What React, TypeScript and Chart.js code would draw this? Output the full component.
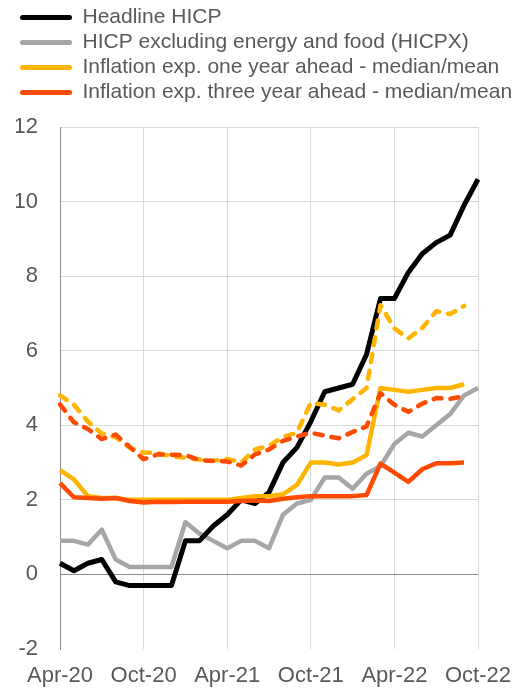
import React, { useEffect, useRef } from "react";
import { Chart, registerables } from "chart.js";

Chart.register(...registerables);

const months: string[] = [
  "Apr-20", "May-20", "Jun-20", "Jul-20", "Aug-20", "Sep-20", "Oct-20", "Nov-20", "Dec-20",
  "Jan-21", "Feb-21", "Mar-21", "Apr-21", "May-21", "Jun-21", "Jul-21", "Aug-21", "Sep-21",
  "Oct-21", "Nov-21", "Dec-21", "Jan-22", "Feb-22", "Mar-22", "Apr-22", "May-22", "Jun-22",
  "Jul-22", "Aug-22", "Sep-22", "Oct-22",
];

const headlineHICP: (number | null)[] = [
  0.3, 0.1, 0.3, 0.4, -0.2, -0.3, -0.3, -0.3, -0.3, 0.9, 0.9, 1.3, 1.6, 2.0, 1.9, 2.2,
  3.0, 3.4, 4.1, 4.9, 5.0, 5.1, 5.9, 7.4, 7.4, 8.1, 8.6, 8.9, 9.1, 9.9, 10.6,
];

const hicpx: (number | null)[] = [
  0.9, 0.9, 0.8, 1.2, 0.4, 0.2, 0.2, 0.2, 0.2, 1.4, 1.1, 0.9, 0.7, 0.9, 0.9, 0.7,
  1.6, 1.9, 2.0, 2.6, 2.6, 2.3, 2.7, 2.9, 3.5, 3.8, 3.7, 4.0, 4.3, 4.8, 5.0,
];

const oneYearMedian: (number | null)[] = [
  2.8, 2.55, 2.1, 2.05, 2.05, 2.0, 2.0, 2.0, 2.0, 2.0, 2.0, 2.0, 2.0, 2.05, 2.1, 2.1,
  2.15, 2.4, 3.0, 3.0, 2.95, 3.0, 3.2, 5.0, 4.95, 4.9, 4.95, 5.0, 5.0, 5.1, null,
];

const threeYearMedian: (number | null)[] = [
  2.45, 2.07, 2.05, 2.03, 2.05, 1.97, 1.93, 1.95, 1.94, 1.95, 1.95, 1.95, 1.95, 1.97, 1.98, 1.97,
  2.03, 2.07, 2.1, 2.1, 2.1, 2.1, 2.13, 2.97, 2.73, 2.48, 2.82, 2.98, 2.98, 3.0, null,
];

const oneYearMean: (number | null)[] = [
  4.8, 4.55, 4.1, 3.78, 3.68, 3.4, 3.27, 3.25, 3.17, 3.13, 3.08, 3.05, 3.1, 3.0, 3.35, 3.45,
  3.69, 3.8, 4.6, 4.55, 4.4, 4.7, 5.0, 7.22, 6.6, 6.33, 6.61, 7.06, 6.98, 7.2, null,
];

const threeYearMean: (number | null)[] = [
  4.56, 4.08, 3.9, 3.63, 3.75, 3.42, 3.09, 3.22, 3.21, 3.2, 3.07, 3.04, 3.03, 2.92, 3.22, 3.35,
  3.58, 3.7, 3.8, 3.72, 3.65, 3.82, 3.97, 4.86, 4.55, 4.36, 4.58, 4.73, 4.71, 4.78, null,
];

const seriesNames: string[] = [
  "Headline HICP",
  "HICP excluding energy and food (HICPX)",
  "Inflation exp. one year ahead - median/mean",
  "Inflation exp. three year ahead - median/mean",
];

const yTicks: number[] = [-2, 0, 2, 4, 6, 8, 10, 12];

const BLACK = "#000000";
const GREY = "#a6a6a6";
const YELLOW = "#ffb400";
const ORANGE = "#ff4b00";
const TEXT = "#595959";

export default function App() {
  const ref = useRef<HTMLCanvasElement | null>(null);

  useEffect(() => {
    if (!ref.current) return;
    Chart.defaults.font.family = "'Liberation Sans', Arial, sans-serif";
    Chart.defaults.color = TEXT;

    const legendSpacer = {
      id: "legendSpacer",
      beforeInit(chart: any) {
        const origFit = chart.legend.fit;
        chart.legend.fit = function () {
          origFit.bind(chart.legend)();
          this.height += 14;
        };
      },
    };

    const solid = (label: string, data: (number | null)[], color: string, width: number, order: number) => ({
      label,
      data,
      borderColor: color,
      backgroundColor: color,
      borderWidth: width,
      pointRadius: 0,
      tension: 0,
      fill: false,
      order,
      borderJoinStyle: "round" as const,
    });

    const dashed = (label: string, data: (number | null)[], color: string, order: number) => ({
      ...solid(label, data, color, 4.5, order),
      borderDash: [8, 9],
      borderCapStyle: "round" as const,
    });

    const chart = new Chart(ref.current, {
      type: "line",
      data: {
        labels: months,
        datasets: [
          solid(seriesNames[0], headlineHICP, BLACK, 5, 4),
          solid(seriesNames[1], hicpx, GREY, 4.5, 5),
          solid(seriesNames[2], oneYearMedian, YELLOW, 4.5, 3),
          solid(seriesNames[3], threeYearMedian, ORANGE, 4.5, 2),
          dashed(seriesNames[2] + " (mean)", oneYearMean, YELLOW, 1),
          dashed(seriesNames[3] + " (mean)", threeYearMean, ORANGE, 0),
        ] as any,
      },
      options: {
        animation: false,
        responsive: false,
        devicePixelRatio: 1,
        layout: { padding: { left: 16, right: 0, top: 3, bottom: 0 } },
        plugins: {
          tooltip: { enabled: false },
          legend: {
            display: true,
            position: "top",
            align: "start",
            labels: {
              boxWidth: 52,
              boxHeight: 5,
              padding: 4,
              color: TEXT,
              font: { size: 21 },
              filter: (item: any) => item.datasetIndex < 4,
              sort: (a: any, b: any) => a.datasetIndex - b.datasetIndex,
              generateLabels: (chart: any) => {
                const items = Chart.defaults.plugins.legend.labels.generateLabels(chart);
                return items.map((it: any) => ({
                  ...it,
                  fillStyle: it.strokeStyle,
                  lineWidth: 0,
                  lineDash: [],
                  borderRadius: 2.5,
                }));
              },
            },
          },
        },
        scales: {
          x: {
            type: "category",
            offset: false,
            border: { display: false },
            afterFit: (s: any) => {
              s.height = 40;
              s.paddingRight = 44;
              s.paddingLeft = 0;
            },
            grid: {
              drawTicks: false,
              color: (ctx: any) => (ctx.index % 6 === 0 ? "#d9d9d9" : "rgba(0,0,0,0)"),
              lineWidth: 1,
            },
            ticks: {
              autoSkip: false,
              maxRotation: 0,
              minRotation: 0,
              padding: 14,
              color: TEXT,
              font: { size: 22 },
              callback: (_v: any, i: number) => (i % 6 === 0 ? months[i] : ""),
            },
          },
          y: {
            min: -2,
            max: 12,
            afterBuildTicks: (scale: any) => {
              scale.ticks = yTicks.map((v) => ({ value: v }));
            },
            afterFit: (s: any) => {
              s.width = 44;
            },
            border: { display: true, color: "#8c8c8c", width: 1 },
            grid: {
              drawTicks: false,
              color: (ctx: any) => {
                const v = ctx.tick ? ctx.tick.value : null;
                if (v === -2) return "rgba(0,0,0,0)";
                if (v === 0) return "#8c8c8c";
                return "#d9d9d9";
              },
              lineWidth: 1,
            },
            ticks: {
              padding: 22,
              color: TEXT,
              font: { size: 22 },
            },
          },
        },
      },
      plugins: [legendSpacer],
    });

    return () => chart.destroy();
  }, []);

  return (
    <div style={{ position: "absolute", left: 0, top: 0, width: 522, height: 689 }}>
      <canvas ref={ref} width={522} height={689} style={{ width: 522, height: 689 }} />
    </div>
  );
}
